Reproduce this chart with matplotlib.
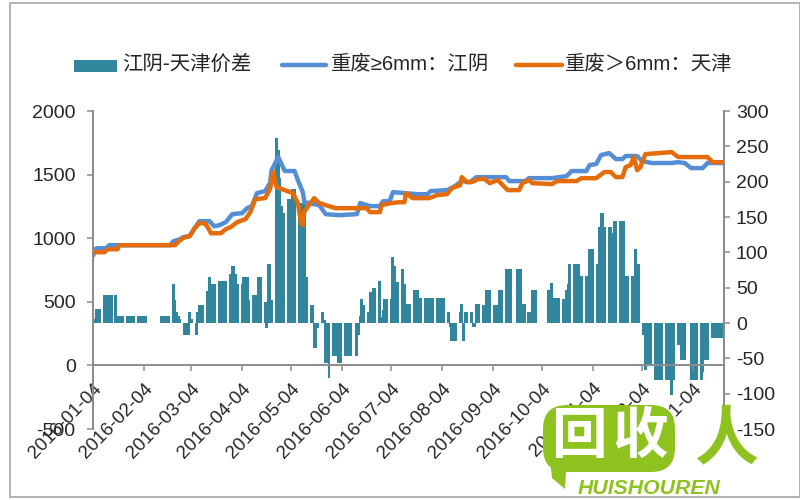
import numpy as np
import pandas as pd
import matplotlib
matplotlib.use('Agg')
import matplotlib.pyplot as plt
from matplotlib.lines import Line2D
from matplotlib.patches import Rectangle, FancyBboxPatch, Polygon

plt.rcParams['font.family'] = ['Liberation Sans', 'DejaVu Sans']
plt.rcParams['axes.unicode_minus'] = False

CJK = ['Noto Sans CJK SC', 'DejaVu Sans']
LATIN_CJK = ['Liberation Sans', 'Noto Sans CJK SC']
GREY = '#8c8c8c'
TXT = '#262626'
GREEN = '#8dc21f'
nan = float('nan')

# ── data ──────────────────────────────────────────────
series_names = ['江阴-天津价差', '重废≥6mm：江阴', '重废＞6mm：天津']
tick_dates = ['2016-01-04', '2016-02-04', '2016-03-04', '2016-04-04', '2016-05-04', '2016-06-04', '2016-07-04',
              '2016-08-04', '2016-09-04', '2016-10-04', '2016-11-04', '2016-12-04', '2017-01-04']
left_ticks = [-500, 0, 500, 1000, 1500, 2000]
right_ticks = [-150, -100, -50, 0, 50, 100, 150, 200, 250, 300]

# spread, one row per week (weekdays), two rows also hold weekend working days
spread_weeks = [
    [-25, 5, 20, 20, 20], [40, 40, 40, 40, 40], [40, 10, 10, 10, 10], [10, 10, 10, 10, 10], [10, 10, 10, 10, 10],
    [nan, nan, nan, nan, nan], [10, 10, 10, 10, 10], [55, 33, 15, 10, 6], [-17, -17, -17, 15, 5], [-17, 15, 26, 26, 26],
    [45, 65, 55, 55, 55], [60, 60, 60, 60, 60], [70, 80, 80, 70, 55], [55, 65, 65, 65, 33], [40, 40, 40, 65, 65],
    [30, -7, 84, 84, 33], [262, 245, 205, 165, 155], [175, 175, 175, 190, 190], [170, 170, 170, 170, 65],
    [25, 25, -36, -36, -7], [15, 4, -57, -57, -78], [-47, -47, -47, -57, -57], [-47, -47, -47, -47, nan],
    [-47, -17, 10, 34, 26], [15, 44, 44, 50, 50], [59, 9, 19, 34, 34], [34, 93, 80, 58, 58], [77, 55, 14, 27, 27],
    [46, 46, 46, 35, 35], [35, 35, 35, 35, 35], [35, 35, 35, 35, 35], [16, -6, -25, -25, -25], [16, 27, -25, 16, 16],
    [16, -6, -6, 27, 27], [26, 26, 46, 46, 46], [26, 26, 26, 46, 46], [77, 77, 77, 77, nan], [77, 77, 77, 27, 27],
    [16, 16, 46, 46, 46], [nan, nan, nan, nan, nan, 46, 46], [56, 35, 35, 35, 35], [34, 34, 46, 55, 84],
    [84, 84, 84, 66, 66], [66, 66, 105, 105, 105], [84, 136, 155, 155, 136], [136, 136, 127, 145, 145],
    [145, 145, 145, 66, 66], [66, 16, 105, 84, 84], [-17, -66, -20, -59, -59], [-81, -81, -81, -81, -81],
    [-81, -81, -81, -102, -81], [-31, -31, -52, -52, -52], [nan, -81, -81, -81, -81], [-81, -70, -52, -52, -52],
    [-21, -21, -21, -21, -21, -21, -21],
]
extra_days = ['2016-10-08', '2016-10-09', '2017-01-21', '2017-01-22']

# prices, days counted from 2016-01-04
jiangyin_days = [0, 2, 8, 10, 15, 47, 49, 53, 55, 59, 62, 65, 71, 74, 77, 81, 85, 91, 94, 97, 100, 105, 108, 109, 113,
                 117, 123, 125, 128, 129, 132, 138, 142, 150, 161, 163, 169, 175, 177, 181, 183, 191, 198, 204, 206,
                 216, 220, 225, 230, 234, 252, 254, 264, 266, 280, 289, 292, 301, 303, 307, 310, 315, 319, 323, 325,
                 332, 335, 341, 353, 357, 361, 365, 372, 375, 384]
jiangyin_price = [866, 921, 921, 945, 945, 945, 976, 992, 1008, 1016, 1079, 1134, 1134, 1094, 1102, 1126, 1189, 1197,
                  1236, 1252, 1354, 1370, 1433, 1535, 1638, 1528, 1528, 1457, 1362, 1283, 1276, 1260, 1189, 1181,
                  1189, 1276, 1252, 1252, 1291, 1291, 1362, 1354, 1346, 1346, 1370, 1378, 1402, 1449, 1441, 1480,
                  1480, 1449, 1449, 1472, 1472, 1488, 1528, 1528, 1575, 1583, 1654, 1669, 1622, 1622, 1646, 1646,
                  1606, 1591, 1591, 1598, 1591, 1551, 1551, 1591, 1591]
tianjin_days = [0, 7, 9, 15, 16, 50, 53, 56, 59, 62, 65, 68, 70, 72, 78, 81, 84, 88, 93, 96, 99, 105, 108, 110, 112,
                117, 122, 125, 127, 128, 129, 135, 138, 144, 148, 167, 169, 175, 176, 182, 187, 190, 191, 195, 205,
                210, 216, 219, 224, 225, 228, 231, 235, 239, 242, 247, 250, 253, 260, 262, 266, 268, 280, 283, 295,
                298, 307, 312, 316, 319, 323, 325, 328, 330, 332, 334, 337, 353, 357, 375, 378, 384]
tianjin_price = [890, 890, 913, 913, 945, 945, 984, 1008, 1016, 1079, 1118, 1118, 1087, 1039, 1039, 1071, 1087, 1126,
                 1150, 1205, 1307, 1315, 1386, 1520, 1402, 1378, 1354, 1276, 1118, 1102, 1213, 1315, 1276, 1252, 1236,
                 1236, 1205, 1205, 1260, 1276, 1283, 1283, 1354, 1315, 1315, 1339, 1346, 1394, 1417, 1480, 1441, 1441,
                 1465, 1465, 1433, 1457, 1417, 1378, 1378, 1433, 1457, 1433, 1425, 1449, 1449, 1472, 1472, 1520, 1520,
                 1480, 1480, 1559, 1575, 1638, 1535, 1559, 1661, 1677, 1638, 1638, 1598, 1598]


def px(x, y):
    return x / 800, 1 - y / 500


start = pd.Timestamp('2016-01-04')
bar_dates = pd.bdate_range('2016-01-04', '2017-01-20').union(pd.to_datetime(extra_days))
spread = [v for week in spread_weeks for v in week]
jy_dates = start + pd.to_timedelta(jiangyin_days, unit='D')
tj_dates = start + pd.to_timedelta(tianjin_days, unit='D')

fig = plt.figure(figsize=(8, 5), dpi=100, facecolor='white')
ax = fig.add_axes([93 / 800, 1 - 429 / 500, 631 / 800, 318 / 500])
ax2 = ax.twinx()
ax.set_zorder(ax2.get_zorder() + 1)
ax.patch.set_visible(False)

ax2.bar(bar_dates, spread, width=1.8, color='#31859c', linewidth=0)
ax.plot(jy_dates, jiangyin_price, color='#558ed5', lw=3.2, solid_joinstyle='round')
ax.plot(tj_dates, tianjin_price, color='#e46c0a', lw=3.2, solid_joinstyle='round')

for a in (ax, ax2):
    a.spines['top'].set_visible(False)
    for s in a.spines.values():
        s.set_color(GREY)
        s.set_linewidth(1.4)
# set_position resets the ticks, so it has to come before the tick labels
ax.spines['bottom'].set_position(('data', 0))
ax2.spines['bottom'].set_visible(False)

ax.set_xlim(start, pd.Timestamp('2017-01-23'))
ax.set_ylim(-500, 2000)
ax2.set_ylim(-150, 300)
ax.set_yticks(left_ticks)
ax2.set_yticks(right_ticks)
ax.set_xticks(pd.to_datetime(tick_dates))
ax.set_xticklabels(tick_dates, rotation=46, ha='right', rotation_mode='anchor', fontsize=13.6, color=TXT)
ax.tick_params(axis='y', length=4.5, width=1.1, color=GREY, labelsize=14, labelcolor=TXT, pad=8)
ax.tick_params(axis='x', length=4.5, width=1.1, color=GREY, pad=6)
ax2.tick_params(axis='y', length=4.5, width=1.1, color=GREY, labelsize=14, labelcolor=TXT, pad=4)

# legend, drawn by hand to sit where the original has it
fig.add_artist(Rectangle(px(74, 72), 43 / 800, 12 / 500, transform=fig.transFigure, color='#31859c', lw=0))
fig.add_artist(Line2D([282 / 800, 326 / 800], [1 - 65 / 500] * 2, color='#558ed5', lw=3.2,
                      solid_capstyle='round', transform=fig.transFigure))
fig.add_artist(Line2D([516 / 800, 562 / 800], [1 - 65 / 500] * 2, color='#e46c0a', lw=3.2,
                      solid_capstyle='round', transform=fig.transFigure))
fig.text(*px(122, 64), series_names[0], family=CJK, fontsize=14.7, color=TXT, va='center', ha='left')
fig.text(*px(331, 64), series_names[1], family=LATIN_CJK, fontsize=14.7, color=TXT, va='center', ha='left')
fig.text(*px(565, 64), series_names[2], family=LATIN_CJK, fontsize=14.7, color=TXT, va='center', ha='left')

# chart frame
fig.add_artist(Rectangle(px(10, 497), 790 / 800, 494 / 500, transform=fig.transFigure,
                         fill=False, edgecolor='#a6a6a6', lw=1.2))

# watermark
fig.add_artist(Polygon([px(548, 440), px(552, 478), px(565, 489), px(566, 472), px(600, 466)],
                       closed=True, transform=fig.transFigure, color=GREEN, lw=0, zorder=10))
fig.add_artist(FancyBboxPatch(px(543, 472), 132 / 800, 67 / 500, boxstyle='round,pad=0,rounding_size=0.03',
                              mutation_aspect=1.6, transform=fig.transFigure, facecolor=GREEN, lw=0, zorder=10))
fig.text(*px(579, 437), '回', family=CJK, fontsize=40, fontweight='bold', color='white', ha='center', va='center', zorder=11)
fig.text(*px(640, 437), '收', family=CJK, fontsize=40, fontweight='bold', color='white', ha='center', va='center', zorder=11)
fig.text(*px(726, 440), '人', family=CJK, fontsize=46, fontweight='bold', color=GREEN, ha='center', va='center', zorder=11)
fig.text(*px(649, 489), 'HUISHOUREN', fontsize=15.3, fontweight='bold', style='italic', color=GREEN,
         ha='center', va='center', zorder=11)

plt.savefig('out.png', dpi=100)
